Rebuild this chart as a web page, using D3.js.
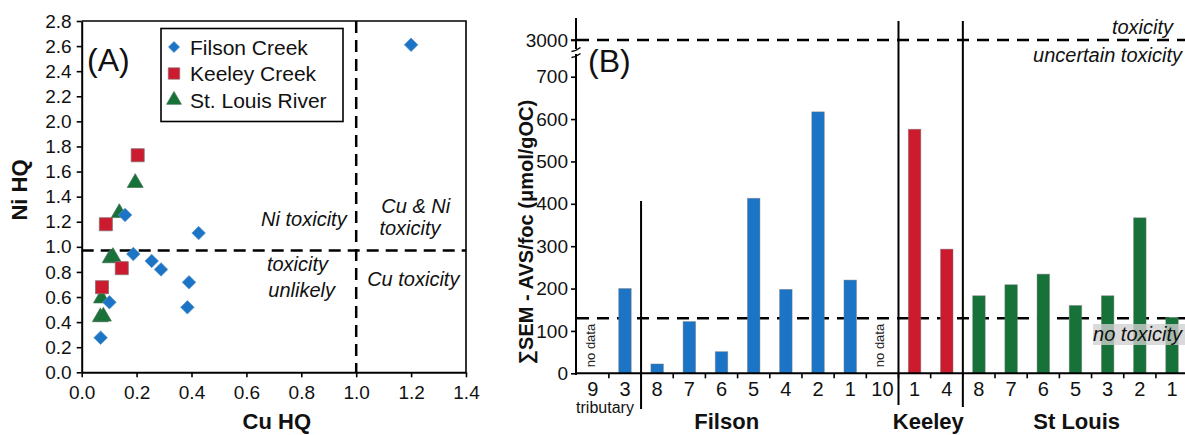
<!DOCTYPE html>
<html>
<head>
<meta charset="utf-8">
<script src="https://cdn.jsdelivr.net/npm/d3@7"></script>
<style>
  html, body { margin: 0; padding: 0; background: #fff; }
  svg { display: block; font-family: "Liberation Sans", Arial, sans-serif; }
</style>
</head>
<body>
<svg id="chart" width="1185" height="435"></svg>
<script>
// ---------- Panel A: hazard quotients (Cu HQ vs Ni HQ) ----------
const filsonCuHQ = [1.20, 0.158, 0.426, 0.188, 0.255, 0.289, 0.391, 0.385, 0.101, 0.069];
const filsonNiHQ = [2.61, 1.254, 1.11, 0.943, 0.887, 0.82, 0.717, 0.518, 0.558, 0.276];
const keeleyCuHQ = [0.204, 0.088, 0.146, 0.074];
const keeleyNiHQ = [1.73, 1.18, 0.83, 0.678];
const stLouisCuHQ = [0.195, 0.137, 0.104, 0.114, 0.072, 0.068, 0.079];
const stLouisNiHQ = [1.51, 1.27, 0.91, 0.92, 0.59, 0.44, 0.445];
const hqTicksX = [0, 0.2, 0.4, 0.6, 0.8, 1.0, 1.2, 1.4];
const hqTicksY = [0, 0.2, 0.4, 0.6, 0.8, 1.0, 1.2, 1.4, 1.6, 1.8, 2.0, 2.2, 2.4, 2.6, 2.8];
const cuThreshold = 1.0;
const niThreshold = 0.97;

// ---------- Panel B: SEM - AVS / foc by site ----------
const tributarySites = ["9", "3"];
const tributaryValues = [null, 200];
const filsonSites = ["8", "7", "6", "5", "4", "2", "1", "10"];
const filsonValues = [22, 122, 51, 413, 198, 617, 220, null];
const keeleySites = ["1", "4"];
const keeleyValues = [576, 293];
const stLouisSites = ["8", "7", "6", "5", "3", "2", "1"];
const stLouisValues = [183, 209, 234, 160, 183, 367, 132];
const semTicks = [0, 100, 200, 300, 400, 500, 600, 700, 3000];
const toxicityLimit = 3000;
const noToxicityLimit = 130;

const colors = { filson: "#1b74c5", keeley: "#cc1b2f", stlouis: "#167238" };

const svg = d3.select("#chart");

// ===== Panel A =====
const ax = d3.scaleLinear().domain([0, 1.4]).range([81.7, 466]);
const ay = d3.scaleLinear().domain([0, 2.8]).range([372.3, 21]);
const gA = svg.append("g");

// frame (top and right)
gA.append("path")
  .attr("d", `M${ax(0)},${ay(2.8)}H${ax(1.4)}V${ay(0)}`)
  .attr("fill", "none").attr("stroke", "#000").attr("stroke-width", 1.6);

const axA = gA.append("g").attr("transform", `translate(0,${ay(0)})`)
  .call(d3.axisBottom(ax).tickValues(hqTicksX).tickFormat(d3.format(".1f"))
    .tickSize(5).tickSizeOuter(0).tickPadding(8));
const ayA = gA.append("g").attr("transform", `translate(${ax(0)},0)`)
  .call(d3.axisLeft(ay).tickValues(hqTicksY).tickFormat(d3.format(".1f"))
    .tickSize(5).tickSizeOuter(0).tickPadding(5));
[axA, ayA].forEach(g => {
  g.select(".domain").attr("stroke-width", 2);
  g.selectAll(".tick line").attr("stroke-width", 1.6);
  g.selectAll(".tick text").attr("font-size", 19).attr("fill", "#111")
    .attr("font-family", "Liberation Sans, Arial, sans-serif");
});

// threshold lines
gA.append("line")
  .attr("x1", ax(0)).attr("x2", ax(1.4)).attr("y1", ay(niThreshold)).attr("y2", ay(niThreshold))
  .attr("stroke", "#000").attr("stroke-width", 2.5).attr("stroke-dasharray", "12,7");
gA.append("line")
  .attr("x1", ax(cuThreshold)).attr("x2", ax(cuThreshold)).attr("y1", ay(2.8)).attr("y2", ay(0))
  .attr("stroke", "#000").attr("stroke-width", 2.5).attr("stroke-dasharray", "12,7");

// region annotations
const itxt = (g, x, y, s, anchor = "middle", size = 20) =>
  g.append("text").attr("x", x).attr("y", y).attr("text-anchor", anchor)
    .attr("font-size", size).attr("font-style", "italic").attr("fill", "#111").text(s);
itxt(gA, 346.7, 226, "Ni toxicity", "end");
itxt(gA, 415.8, 213, "Cu & Ni");
itxt(gA, 410, 234.5, "toxicity");
itxt(gA, 297.5, 271, "toxicity");
itxt(gA, 301.7, 296.5, "unlikely");
itxt(gA, 413.3, 285.5, "Cu toxicity");

// markers
const diamond = d3.symbol().type(d3.symbolSquare).size(92);
const square = d3.symbol().type(d3.symbolSquare).size(170);
const triangle = d3.symbol().type(d3.symbolTriangle).size(110);

gA.append("g").selectAll("path").data(d3.range(stLouisCuHQ.length)).join("path")
  .attr("d", triangle)
  .attr("transform", i => `translate(${ax(stLouisCuHQ[i])},${ay(stLouisNiHQ[i])})`)
  .attr("fill", colors.stlouis).attr("stroke", "#3f6f4f").attr("stroke-width", 0.7);
gA.append("g").selectAll("path").data(d3.range(filsonCuHQ.length)).join("path")
  .attr("d", diamond)
  .attr("transform", i => `translate(${ax(filsonCuHQ[i])},${ay(filsonNiHQ[i])}) rotate(45)`)
  .attr("fill", colors.filson).attr("stroke", "#5b93c8").attr("stroke-width", 0.7);
gA.append("g").selectAll("path").data(d3.range(keeleyCuHQ.length)).join("path")
  .attr("d", square)
  .attr("transform", i => `translate(${ax(keeleyCuHQ[i])},${ay(keeleyNiHQ[i])})`)
  .attr("fill", colors.keeley).attr("stroke", "#8a6a6e").attr("stroke-width", 0.8);

// legend
const leg = gA.append("g");
leg.append("rect").attr("x", 161).attr("y", 28.5).attr("width", 182).attr("height", 93)
  .attr("fill", "#fff").attr("stroke", "#000").attr("stroke-width", 1.6);
const legendItems = [
  { name: "Filson Creek", sym: d3.symbol().type(d3.symbolSquare).size(62), color: colors.filson, rot: 45, stroke: "#5b93c8" },
  { name: "Keeley Creek", sym: d3.symbol().type(d3.symbolSquare).size(130), color: colors.keeley, rot: 0, stroke: "#8a6a6e" },
  { name: "St. Louis River", sym: d3.symbol().type(d3.symbolTriangle).size(95), color: colors.stlouis, rot: 0, stroke: "#3f6f4f" }
];
legendItems.forEach((d, i) => {
  const cy = 47 + i * 26.5;
  leg.append("path").attr("d", d.sym).attr("transform", `translate(174,${cy}) rotate(${d.rot})`)
    .attr("fill", d.color).attr("stroke", d.stroke).attr("stroke-width", 0.7);
  leg.append("text").attr("x", 190).attr("y", cy).attr("dy", "0.36em")
    .attr("font-size", 21).attr("fill", "#111").text(d.name);
});

gA.append("text").attr("x", 87).attr("y", 71).attr("font-size", 32).attr("fill", "#111").text("(A)");
gA.append("text").attr("x", ax(0.7) + 3).attr("y", 429).attr("text-anchor", "middle")
  .attr("font-size", 22).attr("font-weight", "bold").attr("fill", "#111").text("Cu HQ");
gA.append("text").attr("transform", "translate(27,190) rotate(-90)").attr("text-anchor", "middle")
  .attr("font-size", 22).attr("font-weight", "bold").attr("fill", "#111").text("Ni HQ");

// ===== Panel B =====
const sites = [];
const addGroup = (group, labels, values) => labels.forEach((s, i) =>
  sites.push({ id: group + "-" + s, group, label: s, value: values[i] }));
addGroup("trib", tributarySites, tributaryValues);
addGroup("filson", filsonSites, filsonValues);
addGroup("keeley", keeleySites, keeleyValues);
addGroup("stlouis", stLouisSites, stLouisValues);

const bx = d3.scaleBand().domain(sites.map(d => d.id)).range([576.7, 1188.1])
  .paddingInner(0.612).paddingOuter(0.306);
// broken axis: linear 0-700, then a compressed jump to 3000
const by = d3.scaleLinear().domain([0, 700, 3000]).range([373.3, 76.7, 40]);
const gB = svg.append("g");
const axisX = bx.range()[0] + 0.0;
const halfGap = (bx.step() - bx.bandwidth()) / 2;
const leftEdge = id => bx(id) - halfGap;

// threshold dashed lines
[toxicityLimit, noToxicityLimit].forEach(v => gB.append("line")
  .attr("x1", 577).attr("x2", 1185).attr("y1", by(v)).attr("y2", by(v))
  .attr("stroke", "#000").attr("stroke-width", 2.5).attr("stroke-dasharray", "12,8"));

// bars
const colorOf = g => g === "keeley" ? colors.keeley : g === "stlouis" ? colors.stlouis : colors.filson;
gB.append("g").selectAll("rect").data(sites.filter(d => d.value != null)).join("rect")
  .attr("x", d => bx(d.id)).attr("width", bx.bandwidth())
  .attr("y", d => by(d.value)).attr("height", d => by(0) - by(d.value))
  .attr("fill", d => colorOf(d.group))
  .attr("stroke", "rgba(120,120,120,0.55)").attr("stroke-width", 0.8);

// "no data" markers
gB.append("g").selectAll("text").data(sites.filter(d => d.value == null)).join("text")
  .attr("transform", d => `translate(${bx(d.id) + bx.bandwidth() / 2 + 2},345.5) rotate(-90)`)
  .attr("text-anchor", "middle").attr("font-size", 13).attr("fill", "#222").text("no data");

// no toxicity box over the lower band
gB.append("rect").attr("x", 1093).attr("y", 324).attr("width", 100).attr("height", 21)
  .attr("fill", "#cfcfcf").attr("fill-opacity", 0.78);
itxt(gB, 1182, 341, "no toxicity", "end");
itxt(gB, 1173, 33.5, "toxicity", "end");
itxt(gB, 1182, 62, "uncertain toxicity", "end");

// y axis
const yAxisB = gB.append("g").attr("transform", "translate(576,0)")
  .call(d3.axisLeft(by).tickValues(semTicks).tickFormat(d3.format("d"))
    .tickSize(5).tickSizeOuter(0).tickPadding(3));
yAxisB.select(".domain").remove();
yAxisB.selectAll(".tick line").attr("stroke-width", 1.6);
yAxisB.selectAll(".tick text").attr("font-size", 19).attr("fill", "#111")
  .attr("font-family", "Liberation Sans, Arial, sans-serif");
gB.append("line").attr("x1", 576).attr("x2", 576).attr("y1", 18).attr("y2", 375)
  .attr("stroke", "#000").attr("stroke-width", 2);
// tick crossing at the break value
gB.append("line").attr("x1", 571).attr("x2", 581).attr("y1", by(3000)).attr("y2", by(3000))
  .attr("stroke", "#000").attr("stroke-width", 1.6);
// axis break marks
gB.append("rect").attr("x", 572).attr("y", 49).attr("width", 8).attr("height", 5).attr("fill", "#fff");
[[47.5, 51.5], [53.5, 57.5]].forEach(([a, b]) => gB.append("path")
  .attr("d", `M571.5,${b} Q576,${(a + b) / 2 + 1.5} 580.5,${a}`)
  .attr("fill", "none").attr("stroke", "#000").attr("stroke-width", 1.5));

// x axis
gB.append("line").attr("x1", 576).attr("x2", 1185).attr("y1", by(0)).attr("y2", by(0))
  .attr("stroke", "#000").attr("stroke-width", 2);
gB.append("g").selectAll("line").data(sites.slice(1)).join("line")
  .attr("x1", d => leftEdge(d.id)).attr("x2", d => leftEdge(d.id))
  .attr("y1", by(0)).attr("y2", by(0) + 5).attr("stroke", "#000").attr("stroke-width", 1.6);
gB.append("g").selectAll("text").data(sites).join("text")
  .attr("x", d => bx(d.id) + bx.bandwidth() / 2).attr("y", by(0) + 8.4).attr("dy", "0.71em")
  .attr("text-anchor", "middle").attr("font-size", 20).attr("fill", "#111").text(d => d.label);

// group separators
const sepAt = (id, y1, y2) => gB.append("line")
  .attr("x1", leftEdge(id)).attr("x2", leftEdge(id)).attr("y1", y1).attr("y2", y2)
  .attr("stroke", "#000").attr("stroke-width", 2);
sepAt("filson-8", 201, 409);
sepAt("keeley-1", 21, 405);
sepAt("stlouis-8", 21, 407);

// group labels
gB.append("text").attr("x", 605).attr("y", 413).attr("text-anchor", "middle")
  .attr("font-size", 16).attr("fill", "#111").text("tributary");
[["Filson", 726.7], ["Keeley", 928.3], ["St Louis", 1076.7]].forEach(([t, x]) =>
  gB.append("text").attr("x", x).attr("y", 428.5).attr("text-anchor", "middle")
    .attr("font-size", 22).attr("font-weight", "bold").attr("fill", "#111").text(t));

gB.append("text").attr("x", 588).attr("y", 72).attr("font-size", 32).attr("fill", "#111").text("(B)");
gB.append("text").attr("transform", "translate(533,232) rotate(-90)").attr("text-anchor", "middle")
  .attr("font-size", 20).attr("font-weight", "bold").attr("fill", "#111")
  .text("∑SEM - AVS/foc (μmol/gOC)");
</script>
</body>
</html>
